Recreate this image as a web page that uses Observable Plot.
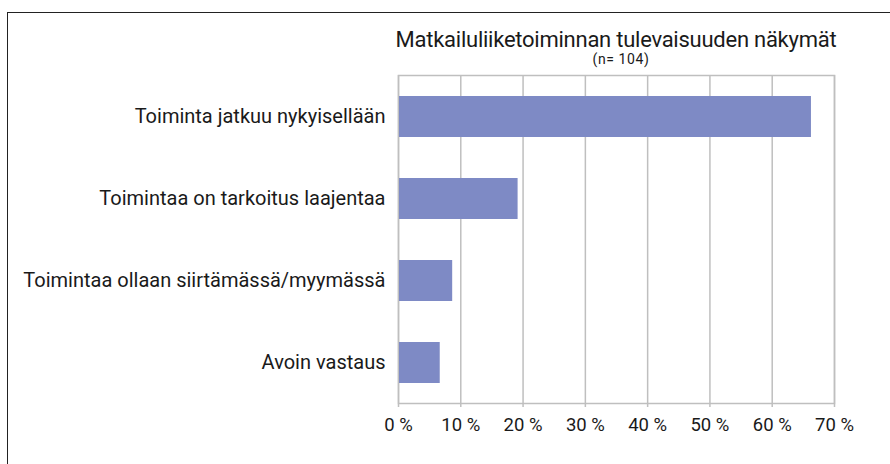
<!DOCTYPE html>
<html>
<head>
<meta charset="utf-8">
<script src="https://cdn.jsdelivr.net/npm/d3@7"></script>
<script src="https://cdn.jsdelivr.net/npm/@observablehq/plot@0.6"></script>
<style>
  html, body { margin: 0; padding: 0; background: #fff; }
  #wrap { position: relative; width: 890px; height: 464px; overflow: hidden; font-family: Roboto, "DejaVu Sans", sans-serif; color: #1a1a1a; }
  #border { position: absolute; left: 7px; top: 12px; width: 900px; height: 470px; border: 1.5px solid #222; box-sizing: border-box; }
  #title { position: absolute; left: 358px; width: 516px; top: 27px; text-align: center; font-size: 22px; letter-spacing: -0.25px; line-height: 26px; white-space: nowrap; }
  #subtitle { position: absolute; left: 403px; width: 436px; top: 51px; text-align: center; font-size: 14px; letter-spacing: 0.6px; line-height: 16px; white-space: nowrap; }
  #chart { position: absolute; left: 0; top: 0; }
</style>
</head>
<body>
<div id="wrap">
  <div id="border"></div>
  <div id="chart"></div>
  <div id="title">Matkailuliiketoiminnan tulevaisuuden näkymät</div>
  <div id="subtitle">(n= 104)</div>
</div>
<script>
const categories = [
  "Toiminta jatkuu nykyisellään",
  "Toimintaa on tarkoitus laajentaa",
  "Toimintaa ollaan siirtämässä/myymässä",
  "Avoin vastaus"
];
const shares = [0.663, 0.192, 0.087, 0.067];
const xTicks = [0, 0.1, 0.2, 0.3, 0.4, 0.5, 0.6, 0.7];

const data = categories.map((c, i) => ({category: c, share: shares[i]}));

const chart = Plot.plot({
  width: 890,
  height: 464,
  marginLeft: 398,
  marginRight: 56,
  marginTop: 75,
  marginBottom: 61,
  style: {background: "transparent", fontFamily: "Roboto, 'DejaVu Sans', sans-serif", color: "#1a1a1a", overflow: "visible"},
  x: {domain: [0, 0.7], label: null},
  y: {domain: categories, paddingInner: 0.5, paddingOuter: 0.25, label: null},
  marks: [
    Plot.ruleX(xTicks, {stroke: "#bfbfbf", strokeWidth: 1.5, strokeOpacity: 1}),
    Plot.frame({stroke: "#bfbfbf", strokeWidth: 1.5}),
    Plot.barX(data, {x: "share", y: "category", fill: "#7e8ac5", insetLeft: 1}),
    Plot.axisX({ticks: xTicks, tickFormat: d => Math.round(d * 100) + " %", tickSize: 4, tickPadding: 10, stroke: "#bfbfbf", strokeWidth: 1.5, fill: "#1a1a1a", fontSize: 18.5, label: null}),
    Plot.axisY({tickSize: 0, tickPadding: 13, fill: "#1a1a1a", fontSize: 20, label: null})
  ]
});
document.getElementById("chart").appendChild(chart);
</script>
</body>
</html>
